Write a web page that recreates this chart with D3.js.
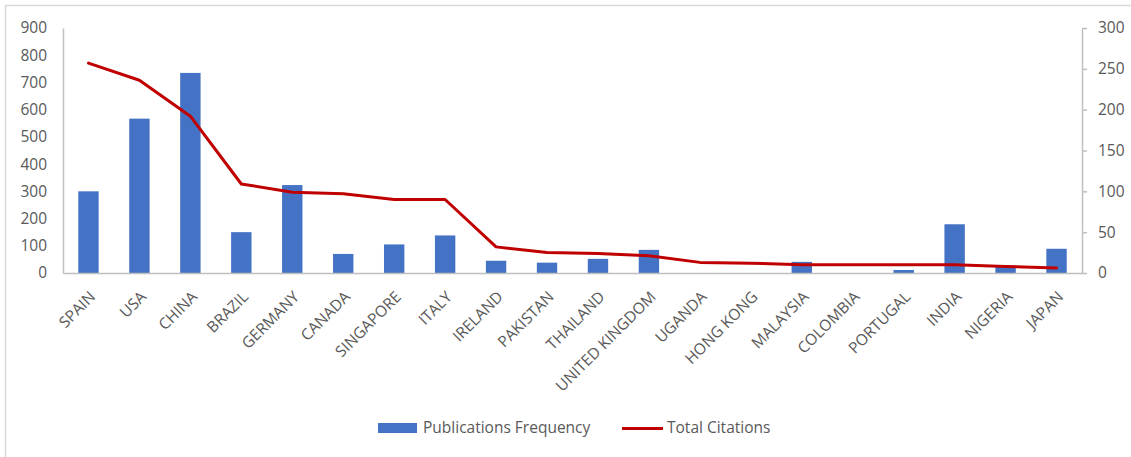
<!DOCTYPE html>
<html>
<head>
<meta charset="utf-8">
<script src="https://cdn.jsdelivr.net/npm/d3@7"></script>
<style>
  body { margin: 0; background: #fff; }
  svg text { font-family: "Open Sans", Lato, sans-serif; fill: #595959; }
</style>
</head>
<body>
<div id="chart"></div>
<script>
var countries = ["SPAIN", "USA", "CHINA", "BRAZIL", "GERMANY", "CANADA", "SINGAPORE", "ITALY",
  "IRELAND", "PAKISTAN", "THAILAND", "UNITED KINGDOM", "UGANDA", "HONG KONG", "MALAYSIA",
  "COLOMBIA", "PORTUGAL", "INDIA", "NIGERIA", "JAPAN"];
var pubFreq = [300, 567, 735, 150, 323, 70, 105, 138, 45, 38, 52, 85, 0, 0, 41, 0, 11, 179, 22, 89];
var totalCitations = [257, 236, 192, 109, 99, 97, 90, 90, 32, 25, 24, 21, 13, 12, 10, 10, 10, 10, 8, 6];
var leftTicks = [0, 100, 200, 300, 400, 500, 600, 700, 800, 900];
var rightTicks = [0, 50, 100, 150, 200, 250, 300];

var W = 1131, H = 457;
var margin = { top: 28, right: 49, bottom: 184, left: 63 };
var plotB = H - margin.bottom;

var svg = d3.select("#chart").append("svg")
  .attr("width", W)
  .attr("height", H);

// outer frame (runs off the bottom/right edge like the source)
svg.append("rect")
  .attr("x", 5.5).attr("y", 5.5)
  .attr("width", W + 20).attr("height", H + 20)
  .attr("fill", "none")
  .attr("stroke", "#d9d9d9")
  .attr("stroke-width", 1.5);

var x = d3.scaleBand()
  .domain(countries)
  .range([margin.left, W - margin.right])
  .paddingInner(0.6)
  .paddingOuter(0.3);

var yL = d3.scaleLinear().domain([0, 900]).range([plotB, margin.top]);
var yR = d3.scaleLinear().domain([0, 300]).range([plotB, margin.top]);

// bars
svg.append("g").selectAll("rect")
  .data(countries)
  .enter()
  .append("rect")
  .attr("x", function (d) { return x(d); })
  .attr("width", x.bandwidth())
  .attr("y", function (d, i) { return yL(pubFreq[i]); })
  .attr("height", function (d, i) { return plotB - yL(pubFreq[i]); })
  .attr("fill", "#4472C4");

// left axis
var axL = svg.append("g")
  .attr("transform", "translate(" + margin.left + ",0)")
  .call(d3.axisLeft(yL).tickValues(leftTicks).tickSize(0).tickPadding(16));
axL.select(".domain").attr("stroke", "#bfbfbf").attr("stroke-width", 1.5);
axL.selectAll("text").style("font-size", "15.5px");

// right axis
var axR = svg.append("g")
  .attr("transform", "translate(" + (W - margin.right) + ",0)")
  .call(d3.axisRight(yR).tickValues(rightTicks).tickSize(5).tickSizeOuter(0).tickPadding(11));
axR.select(".domain").attr("stroke", "#bfbfbf").attr("stroke-width", 1.5);
axR.selectAll("line").attr("stroke", "#bfbfbf").attr("stroke-width", 1.5);
axR.selectAll("text").style("font-size", "15.5px");

// x axis baseline + rotated labels
var axX = svg.append("g")
  .attr("transform", "translate(0," + plotB + ")")
  .call(d3.axisBottom(x).tickSize(0).tickSizeOuter(0));
axX.select(".domain").attr("stroke", "#bfbfbf").attr("stroke-width", 1.5);
axX.selectAll("text")
  .style("font-size", "15.5px")
  .style("text-anchor", "end")
  .attr("dy", "0.35em")
  .attr("y", 0)
  .attr("transform", "translate(4,21) rotate(-45)");

// citations line
var line = d3.line()
  .x(function (d, i) { return x(countries[i]) + x.bandwidth() / 2; })
  .y(function (d) { return yR(d); });

svg.append("path")
  .datum(totalCitations)
  .attr("d", line)
  .attr("fill", "none")
  .attr("stroke", "#C00000")
  .attr("stroke-width", 3)
  .attr("stroke-linejoin", "round")
  .attr("stroke-linecap", "round");

// legend
var leg = svg.append("g");
leg.append("rect")
  .attr("x", 378).attr("y", 423)
  .attr("width", 39).attr("height", 10)
  .attr("fill", "#4472C4");
leg.append("text")
  .attr("x", 423).attr("y", 433)
  .style("font-size", "15.5px")
  .text("Publications Frequency");
leg.append("line")
  .attr("x1", 622).attr("x2", 663)
  .attr("y1", 428.5).attr("y2", 428.5)
  .attr("stroke", "#C00000")
  .attr("stroke-width", 3);
leg.append("text")
  .attr("x", 667).attr("y", 433)
  .style("font-size", "15.5px")
  .text("Total Citations");
</script>
</body>
</html>
